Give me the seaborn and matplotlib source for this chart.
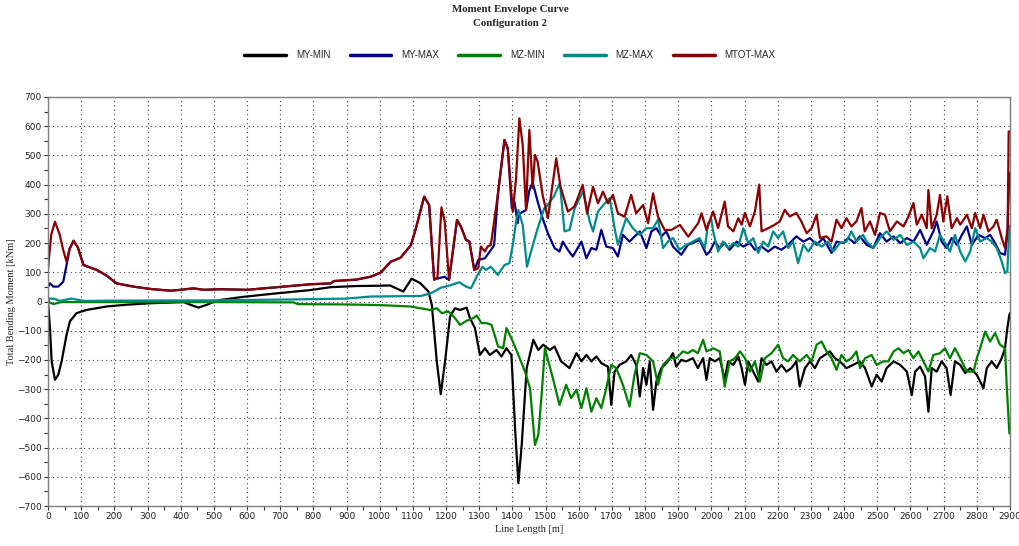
import numpy as np
import pandas as pd
import matplotlib
matplotlib.use("Agg")
import matplotlib.pyplot as plt
import seaborn as sns
from matplotlib.ticker import MultipleLocator
from matplotlib import font_manager

# ---------------- data ----------------
series_names = ["MY-MIN", "MY-MAX", "MZ-MIN", "MZ-MAX", "MTOT-MAX"]
series_colors = ["#000000", "#00008B", "#008000", "#008B8B", "#8B0000"]

my_min_x = [0, 6, 11, 21, 31, 41, 56, 66, 86, 116, 177, 237, 308, 409, 429, 454, 479, 499, 518, 589, 690, 790, 852, 931, 1001,
            1031, 1071, 1096, 1122, 1147, 1157, 1172, 1184, 1197, 1212, 1227, 1242, 1262, 1272, 1287, 1302, 1317, 1332, 1352,
            1367, 1382, 1397, 1408, 1418, 1428, 1443, 1463, 1478, 1493, 1513, 1527, 1547, 1572, 1593, 1608, 1623, 1638, 1653,
            1668, 1688, 1698, 1708, 1723, 1743, 1758, 1773, 1784, 1794, 1804, 1814, 1824, 1834, 1849, 1869, 1884, 1894, 1909,
            1924, 1944, 1959, 1975, 1985, 1995, 2010, 2025, 2040, 2050, 2066, 2081, 2091, 2101, 2111, 2126, 2141, 2151, 2166,
            2181, 2196, 2211, 2226, 2241, 2256, 2266, 2282, 2297, 2312, 2327, 2342, 2357, 2372, 2387, 2407, 2427, 2447, 2463,
            2483, 2498, 2513, 2528, 2549, 2569, 2589, 2604, 2614, 2629, 2644, 2654, 2664, 2679, 2694, 2709, 2721, 2734, 2750,
            2765, 2780, 2800, 2820, 2830, 2845, 2860, 2875, 2885, 2892, 2898, 2900]
my_min_y = [0, -91, -205, -268, -251, -205, -114, -68, -40, -29, -17, -11, -6, -2, -11, -21, -11, -2, 5, 16, 28, 39, 49, 53, 54,
            55, 34, 78, 63, 34, -11, -205, -317, -205, -51, -23, -29, -21, -57, -91, -183, -160, -183, -166,
            -188, -160, -183, -434, -622, -491, -228, -131, -166, -148, -166, -154, -205, -228, -177, -205, -183, -205, -188,
            -211, -223, -354, -240, -217, -205, -183, -217, -325, -228, -285, -205, -371, -274, -228, -205, -177, -223, -200,
            -205, -194, -228, -194, -268, -194, -205, -194, -268, -205, -217, -188, -228, -285, -205, -240, -274, -194, -217,
            -205, -240, -217, -240, -228, -205, -291, -228, -205, -228, -194, -183, -171, -194, -205, -228, -217, -205, -228,
            -291, -251, -274, -228, -205, -217, -240, -320, -240, -223, -257, -377, -228, -240, -205, -228, -320, -205, -217,
            -245, -228, -251, -297, -228, -205, -228, -194, -160, -91, -46, -40]

my_max_x = [0, 6, 16, 31, 46, 56, 65, 77, 90, 107, 147, 175, 207, 257, 308, 369, 400, 438, 470, 520, 600, 691, 791, 852, 862,
            930, 973, 1003, 1033, 1063, 1094, 1109, 1134, 1149, 1164, 1180, 1195, 1209, 1233, 1245, 1260, 1270, 1285, 1297,
            1317, 1335, 1345, 1356, 1376, 1386, 1398, 1406, 1416, 1420, 1441, 1451, 1461, 1476, 1491, 1507, 1527, 1542, 1552,
            1567, 1582, 1608, 1623, 1638, 1653, 1668, 1683, 1703, 1718, 1733, 1753, 1773, 1784, 1804, 1819, 1834, 1849, 1864,
            1884, 1909, 1929, 1944, 1964, 1985, 1995, 2010, 2025, 2040, 2055, 2076, 2096, 2116, 2131, 2151, 2171, 2191, 2211,
            2231, 2256, 2277, 2297, 2317, 2337, 2362, 2377, 2397, 2412, 2432, 2447, 2468, 2488, 2508, 2528, 2549, 2569, 2589,
            2609, 2629, 2649, 2669, 2679, 2694, 2709, 2724, 2740, 2755, 2770, 2785, 2805, 2825, 2840, 2855, 2870, 2885, 2892,
            2898, 2900]
my_max_y = [50, 62, 51, 51, 68, 125, 180, 208, 185, 125, 108, 90, 62, 51, 43, 37, 40, 45, 40, 42, 40, 49, 59, 62, 70,
            75, 85, 99, 136, 150, 193, 250, 359, 330, 76, 80, 85, 74, 279, 256, 211, 206, 108, 142,
            148, 176, 193, 365, 553, 524, 320, 342, 268, 300, 313, 380, 408, 342, 285, 233, 183, 171, 205,
            177, 154, 205, 148, 183, 177, 245, 188, 183, 154, 228, 205, 228, 240, 183, 240, 251, 223, 240,
            188, 160, 194, 200, 211, 160, 171, 205, 183, 200, 177, 205, 188, 200, 177, 188, 171, 188, 177,
            194, 223, 205, 217, 194, 217, 166, 205, 200, 217, 200, 223, 194, 183, 234, 205, 223, 200, 217,
            205, 245, 194, 240, 274, 205, 183, 217, 194, 228, 257, 194, 228, 217, 228, 200, 166, 160, 228,
            440, 440]

mz_min_x = [0, 16, 40, 100, 500, 740, 753, 893, 993, 1092, 1152, 1172, 1187, 1207, 1227, 1242, 1262, 1282, 1292, 1307, 1322,
            1337, 1357, 1372, 1382, 1397, 1418, 1438, 1453, 1468, 1478, 1488, 1498, 1522, 1542, 1562, 1577, 1593, 1608, 1623,
            1638, 1653, 1668, 1683, 1698, 1713, 1733, 1753, 1768, 1784, 1804, 1824, 1839, 1854, 1874, 1894, 1914, 1929, 1944,
            1959, 1975, 1985, 2005, 2025, 2040, 2055, 2071, 2086, 2101, 2116, 2131, 2146, 2161, 2181, 2201, 2216, 2231, 2246,
            2266, 2287, 2302, 2317, 2332, 2347, 2362, 2377, 2392, 2407, 2422, 2437, 2448, 2463, 2483, 2498, 2518, 2533, 2549,
            2564, 2579, 2594, 2609, 2624, 2639, 2654, 2669, 2689, 2704, 2719, 2734, 2750, 2770, 2790, 2800, 2810, 2825, 2840,
            2855, 2870, 2885, 2890, 2898, 2900]
mz_min_y = [0, -9, -2, -2, -2, -3, -9, -10, -12, -17, -29, -23, -40, -34, -57, -80, -66, -57, -48, -74, -74,
            -80, -154, -160, -91, -126, -183, -240, -297, -491, -457, -320, -160, -263, -354, -285, -331, -302, -365, -297,
            -377, -331, -365, -297, -217, -228, -285, -360, -251, -177, -183, -205, -285, -217, -194, -194, -171, -177, -166,
            -177, -131, -171, -160, -171, -291, -205, -194, -171, -194, -240, -205, -274, -194, -177, -148, -194, -205, -183,
            -205, -183, -205, -148, -137, -171, -194, -234, -183, -205, -194, -171, -228, -194, -183, -217, -205, -205, -171,
            -160, -177, -166, -194, -171, -205, -240, -183, -177, -160, -194, -160, -194, -240, -240, -194, -160, -103, -137,
            -108, -148, -160, -285, -451, -450]

mz_max_x = [0, 5, 16, 36, 71, 107, 200, 500, 740, 900, 973, 1124, 1154, 1184, 1214, 1240, 1260, 1275, 1295, 1310, 1320, 1335,
            1356, 1376, 1391, 1401, 1411, 1418, 1431, 1444, 1456, 1476, 1496, 1503, 1525, 1543, 1557, 1572, 1588, 1613, 1633,
            1643, 1658, 1683, 1693, 1708, 1718, 1733, 1743, 1763, 1784, 1804, 1824, 1839, 1854, 1869, 1884, 1904, 1924, 1944,
            1964, 1980, 1990, 2000, 2005, 2020, 2035, 2050, 2066, 2081, 2096, 2111, 2126, 2141, 2156, 2171, 2186, 2201, 2216,
            2231, 2246, 2261, 2277, 2292, 2312, 2332, 2352, 2367, 2387, 2407, 2422, 2437, 2457, 2468, 2488, 2508, 2528, 2549,
            2569, 2589, 2609, 2629, 2639, 2659, 2674, 2689, 2704, 2719, 2734, 2750, 2765, 2780, 2795, 2810, 2830, 2845, 2860,
            2875, 2885, 2892, 2898, 2900]
mz_max_y = [0, 10, 10, 2, 10, 2, 3, 4, 7, 10, 17, 19, 28, 47, 56, 66, 51, 45, 91, 119, 108, 119,
            91, 125, 131, 193, 273, 313, 262, 119, 171, 250, 319, 325, 360, 405, 240, 245, 320, 377, 274,
            240, 308, 342, 354, 251, 194, 251, 285, 251, 228, 251, 251, 280, 183, 205, 217, 177, 194, 205,
            217, 183, 268, 280, 240, 171, 205, 183, 200, 188, 251, 200, 217, 166, 205, 188, 240, 217, 240,
            183, 205, 131, 194, 171, 205, 188, 205, 171, 200, 205, 240, 205, 228, 205, 183, 217, 240, 211,
            228, 194, 205, 183, 148, 183, 171, 228, 200, 171, 228, 171, 137, 171, 251, 205, 217, 205, 183,
            137, 97, 103, 251, 260]

mtot_max_x = [0, 3, 10, 21, 35, 45, 56, 65, 77, 90, 107, 147, 175, 207, 257, 308, 369, 400, 438, 470, 520, 600, 691, 791,
              852, 862, 930, 973, 1003, 1033, 1063, 1094, 1109, 1134, 1149, 1164, 1174, 1186, 1196, 1209, 1233, 1245, 1260,
              1270, 1285, 1297, 1305, 1317, 1325, 1335, 1356, 1376, 1386, 1401, 1411, 1421, 1431, 1441, 1451, 1461, 1468,
              1476, 1491, 1507, 1532, 1545, 1567, 1587, 1612, 1625, 1643, 1658, 1673, 1688, 1703, 1718, 1738, 1758, 1773,
              1794, 1809, 1824, 1839, 1859, 1879, 1905, 1930, 1960, 1970, 1985, 2005, 2020, 2040, 2050, 2066, 2081, 2091,
              2101, 2116, 2131, 2144, 2151, 2171, 2191, 2206, 2221, 2236, 2256, 2271, 2287, 2302, 2317, 2327, 2347, 2362,
              2377, 2392, 2407, 2422, 2437, 2452, 2462, 2478, 2493, 2508, 2523, 2538, 2559, 2579, 2594, 2609, 2619, 2634,
              2649, 2654, 2664, 2679, 2689, 2699, 2711, 2724, 2740, 2750, 2770, 2785, 2795, 2810, 2820, 2835, 2850, 2860,
              2875, 2885, 2893, 2896, 2900]
mtot_max_y = [110, 150, 230, 273, 230, 180, 136, 180, 208, 185, 125, 108, 90, 62, 51, 43, 37, 40, 45, 40, 42, 40, 49, 59,
              62, 70, 75, 85, 99, 136, 150, 193, 250, 359, 330, 74, 82, 322, 273, 74, 279, 256, 211,
              206, 108, 114, 188, 171, 188, 193, 365, 553, 524, 307, 422, 627, 536, 313, 587, 388, 502,
              479, 365, 285, 490, 393, 308, 325, 399, 302, 393, 336, 376, 336, 365, 302, 290, 365, 302,
              330, 268, 370, 290, 245, 245, 262, 222, 268, 302, 245, 308, 251, 342, 257, 240, 285, 263,
              303, 257, 308, 400, 240, 251, 263, 274, 314, 291, 303, 274, 234, 251, 297, 217, 223, 205,
              280, 251, 285, 257, 274, 320, 240, 274, 228, 303, 297, 240, 274, 257, 291, 337, 263, 297,
              251, 382, 251, 297, 365, 274, 360, 251, 285, 263, 297, 251, 303, 251, 297, 240, 257, 280,
              217, 183, 251, 582, 580]

x_ticks = list(range(0, 3000, 100))
y_ticks = list(range(-700, 800, 100))

# ---------------- build long table ----------------
frames = []
for name, xs, ys in [("MY-MIN", my_min_x, my_min_y), ("MY-MAX", my_max_x, my_max_y),
                     ("MZ-MIN", mz_min_x, mz_min_y), ("MZ-MAX", mz_max_x, mz_max_y),
                     ("MTOT-MAX", mtot_max_x, mtot_max_y)]:
    frames.append(pd.DataFrame({"x": xs, "y": ys, "series": name}))
df = pd.concat(frames, ignore_index=True)

# ---------------- plot ----------------
sns.set_style("white")
plt.rcParams["font.family"] = ["DejaVu Sans"]

installed = {f.name for f in font_manager.fontManager.ttflist}
legend_family = "Liberation Sans Narrow" if "Liberation Sans Narrow" in installed else "Liberation Sans"

fig = plt.figure(figsize=(10.2, 5.46), dpi=100)
ax = fig.add_axes([48 / 1020, 40 / 546, (1010 - 48) / 1020, (506 - 97) / 546])

for name, col in zip(series_names, series_colors):
    sub = df[df["series"] == name]
    sns.lineplot(data=sub, x="x", y="y", color=col, linewidth=1.6, ax=ax,
                 estimator=None, sort=False, label=name, legend=False)

ax.set_xlim(0, 2900)
ax.set_ylim(-700, 700)
ax.set_xticks(x_ticks)
ax.set_yticks(y_ticks)
ax.xaxis.set_minor_locator(MultipleLocator(50))
ax.yaxis.set_minor_locator(MultipleLocator(50))
ax.tick_params(axis="both", which="major", labelsize=6.5, length=3, width=0.8,
               color="#333333", labelcolor="#222222", pad=1.5, direction="out")
ax.tick_params(axis="both", which="minor", length=3, width=0.8, color="#333333", direction="out")
ax.tick_params(axis="x", which="both", bottom=True)
ax.tick_params(axis="y", which="both", left=True)

ax.grid(True, which="major", linestyle=(0, (1, 3)), color="#444444", linewidth=0.8)
for s in ax.spines.values():
    s.set_color("#7f7f7f")
    s.set_linewidth(1.0)

ax.set_xlabel("Line Length [m]", family="Liberation Serif", fontsize=7.5, labelpad=3)
ax.set_ylabel("Total Bending Moment [kNm]", family="Liberation Serif", fontsize=7.5, labelpad=1)

fig.text(0.5, 1 - 10 / 546, "Moment Envelope Curve", ha="center", va="center",
         family="Liberation Serif", fontweight="bold", fontsize=7.8)
fig.text(0.5, 1 - 24 / 546, "Configuration 2", ha="center", va="center",
         family="Liberation Serif", fontweight="bold", fontsize=7.8)

handles, labels = ax.get_legend_handles_labels()
fig.legend(handles, labels, loc="center", bbox_to_anchor=(0.5, 1 - 55 / 546), ncol=5,
           frameon=False, prop={"family": legend_family, "size": 7}, handlelength=4.3,
           columnspacing=2.0, handletextpad=1.0)
for lh in fig.legends[0].get_lines():
    lh.set_linewidth(2.5)

fig.savefig("out.png", dpi=100)
